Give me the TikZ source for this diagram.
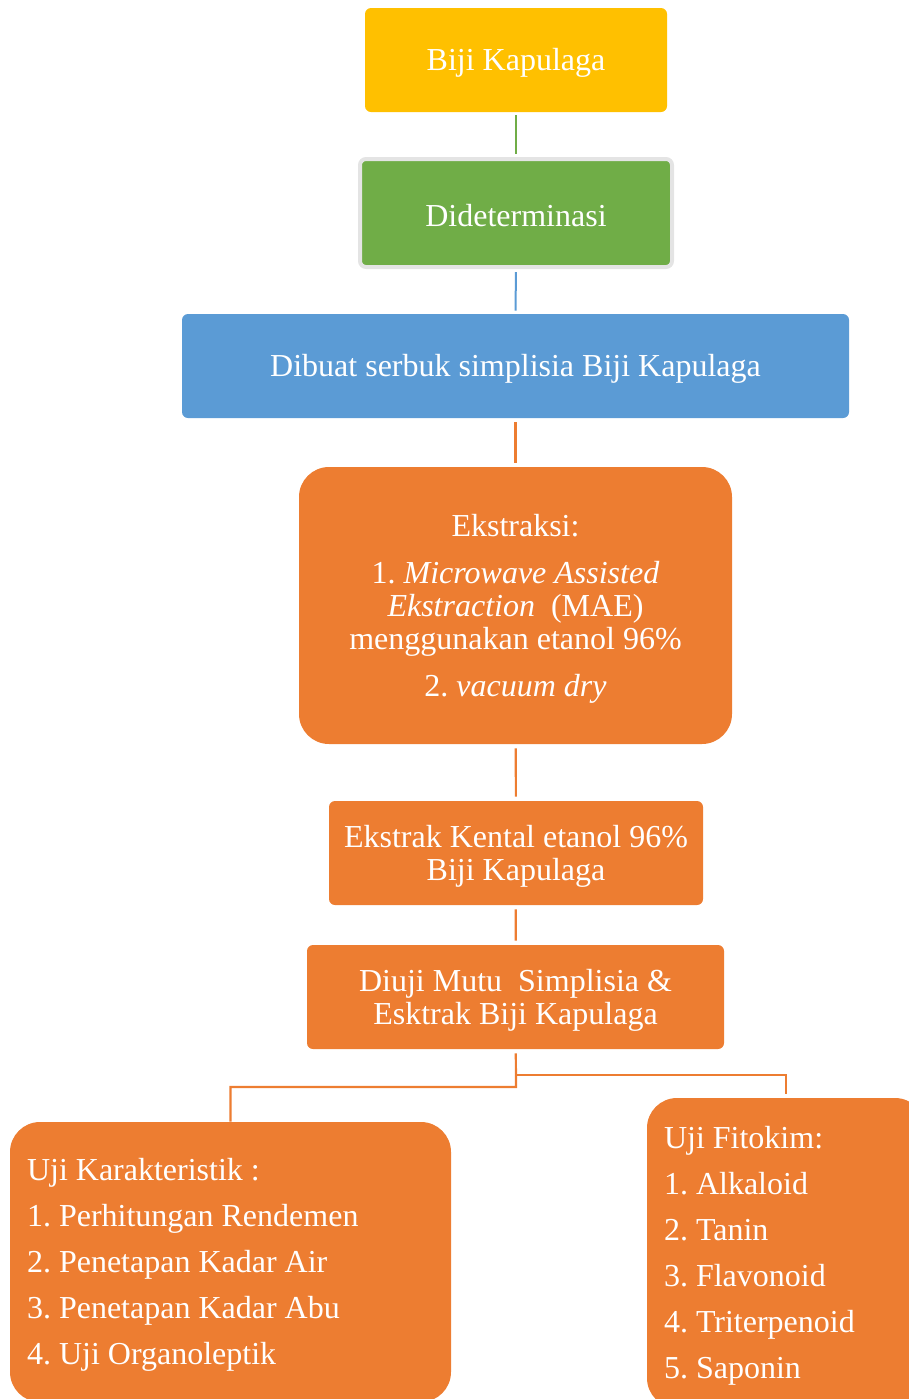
\documentclass[tikz,border=0pt]{standalone}
\usepackage{fontspec}
\setmainfont{Liberation Serif}
\usetikzlibrary{calc}
\definecolor{kuning}{HTML}{FFC000}
\definecolor{hijau}{HTML}{70AD47}
\definecolor{biru}{HTML}{5B9BD5}
\definecolor{oranye}{HTML}{ED7D31}
\definecolor{abu}{HTML}{E4E4E4}
\newcommand{\tegak}{\rule{0pt}{14pt}}
\tikzset{
	bagan/.style={x=0.5pt, y=-0.5pt, font=\fontsize{16}{16.5}\selectfont\frenchspacing},
	kotak/.style={rounded corners=3pt, text=white, align=flush center, inner sep=4pt, minimum height=52pt},
	kotakbulat/.style={rounded corners=15pt, text=white, align=flush left, inner xsep=8.5pt, inner ysep=4pt},
	garis/.style={line width=1.1pt, draw=oranye, shorten <=2pt, shorten >=2pt},
	garistipis/.style={line width=1pt, shorten <=1.5pt, shorten >=1.5pt},
}

\begin{document}
\begin{tikzpicture}[bagan]

\useasboundingbox (0,0) rectangle (909,1399);
\clip (0,0) rectangle (909,1399);

\node[kotak, fill=kuning, minimum width=151pt] (biji) at (516,60) {\tegak Biji Kapulaga};
\node[kotak, fill=hijau, draw=abu, line width=2pt, minimum width=156pt, minimum height=54pt] (determinasi) at (516,213)
    {\tegak Dideterminasi};
\node[kotak, fill=biru, minimum width=333.5pt] (serbuk) at (515.5,366)
    {\tegak Dibuat serbuk simplisia Biji Kapulaga};
\node[kotak, fill=oranye, rounded corners=15pt, minimum width=216.5pt, minimum height=138.5pt] (ekstraksi) at (515.5,605.5)
    {\tegak Ekstraksi:\\[7pt] 1. \textit{Microwave Assisted}\\ \textit{Ekstraction}\ \ (MAE)\\ menggunakan etanol 96\%\\[7pt] 2. \textit{vacuum dry}};
\node[kotak, fill=oranye, minimum width=187pt] (kental) at (516,853)
    {\tegak Ekstrak Kental etanol 96\%\\Biji Kapulaga};
\node[kotak, fill=oranye, minimum width=208.5pt] (mutu) at (515.5,997)
    {\tegak Diuji Mutu\ \ Simplisia \&\\Esktrak Biji Kapulaga};

\node[kotakbulat, fill=oranye, text width=203.5pt, minimum height=140pt] (karakter) at (230.5,1262)
    {\tegak Uji Karakteristik :\\[6.5pt] 1. Perhitungan Rendemen\\[6.5pt] 2. Penetapan Kadar Air\\[6.5pt]
     3. Penetapan Kadar Abu\\[6.5pt] 4. Uji Organoleptik};
\node[kotakbulat, fill=oranye, text width=122pt, minimum height=155pt] (fitokim) at (786,1253)
    {\tegak Uji Fitokim:\\[6.5pt] 1. Alkaloid\\[6.5pt] 2. Tanin\\[6.5pt] 3. Flavonoid\\[6.5pt] 4. Triterpenoid\\[6.5pt] 5. Saponin};

\coordinate (cabangkanan) at (516,1075);
\coordinate (cabangkiri) at (516,1087);

\draw[garistipis, draw=hijau] (biji) -- (determinasi);
\draw[garistipis, draw=biru] (determinasi) -- (serbuk);
\draw[garis] (serbuk) -- (ekstraksi);
\draw[garis] (ekstraksi) -- (kental);
\draw[garis] (kental) -- (mutu);
\draw[garis, shorten >=0pt] (mutu) -- (cabangkiri) -| (karakter);
\draw[garis, shorten <=0pt] (cabangkanan) -| (fitokim);

\end{tikzpicture}
\end{document}
